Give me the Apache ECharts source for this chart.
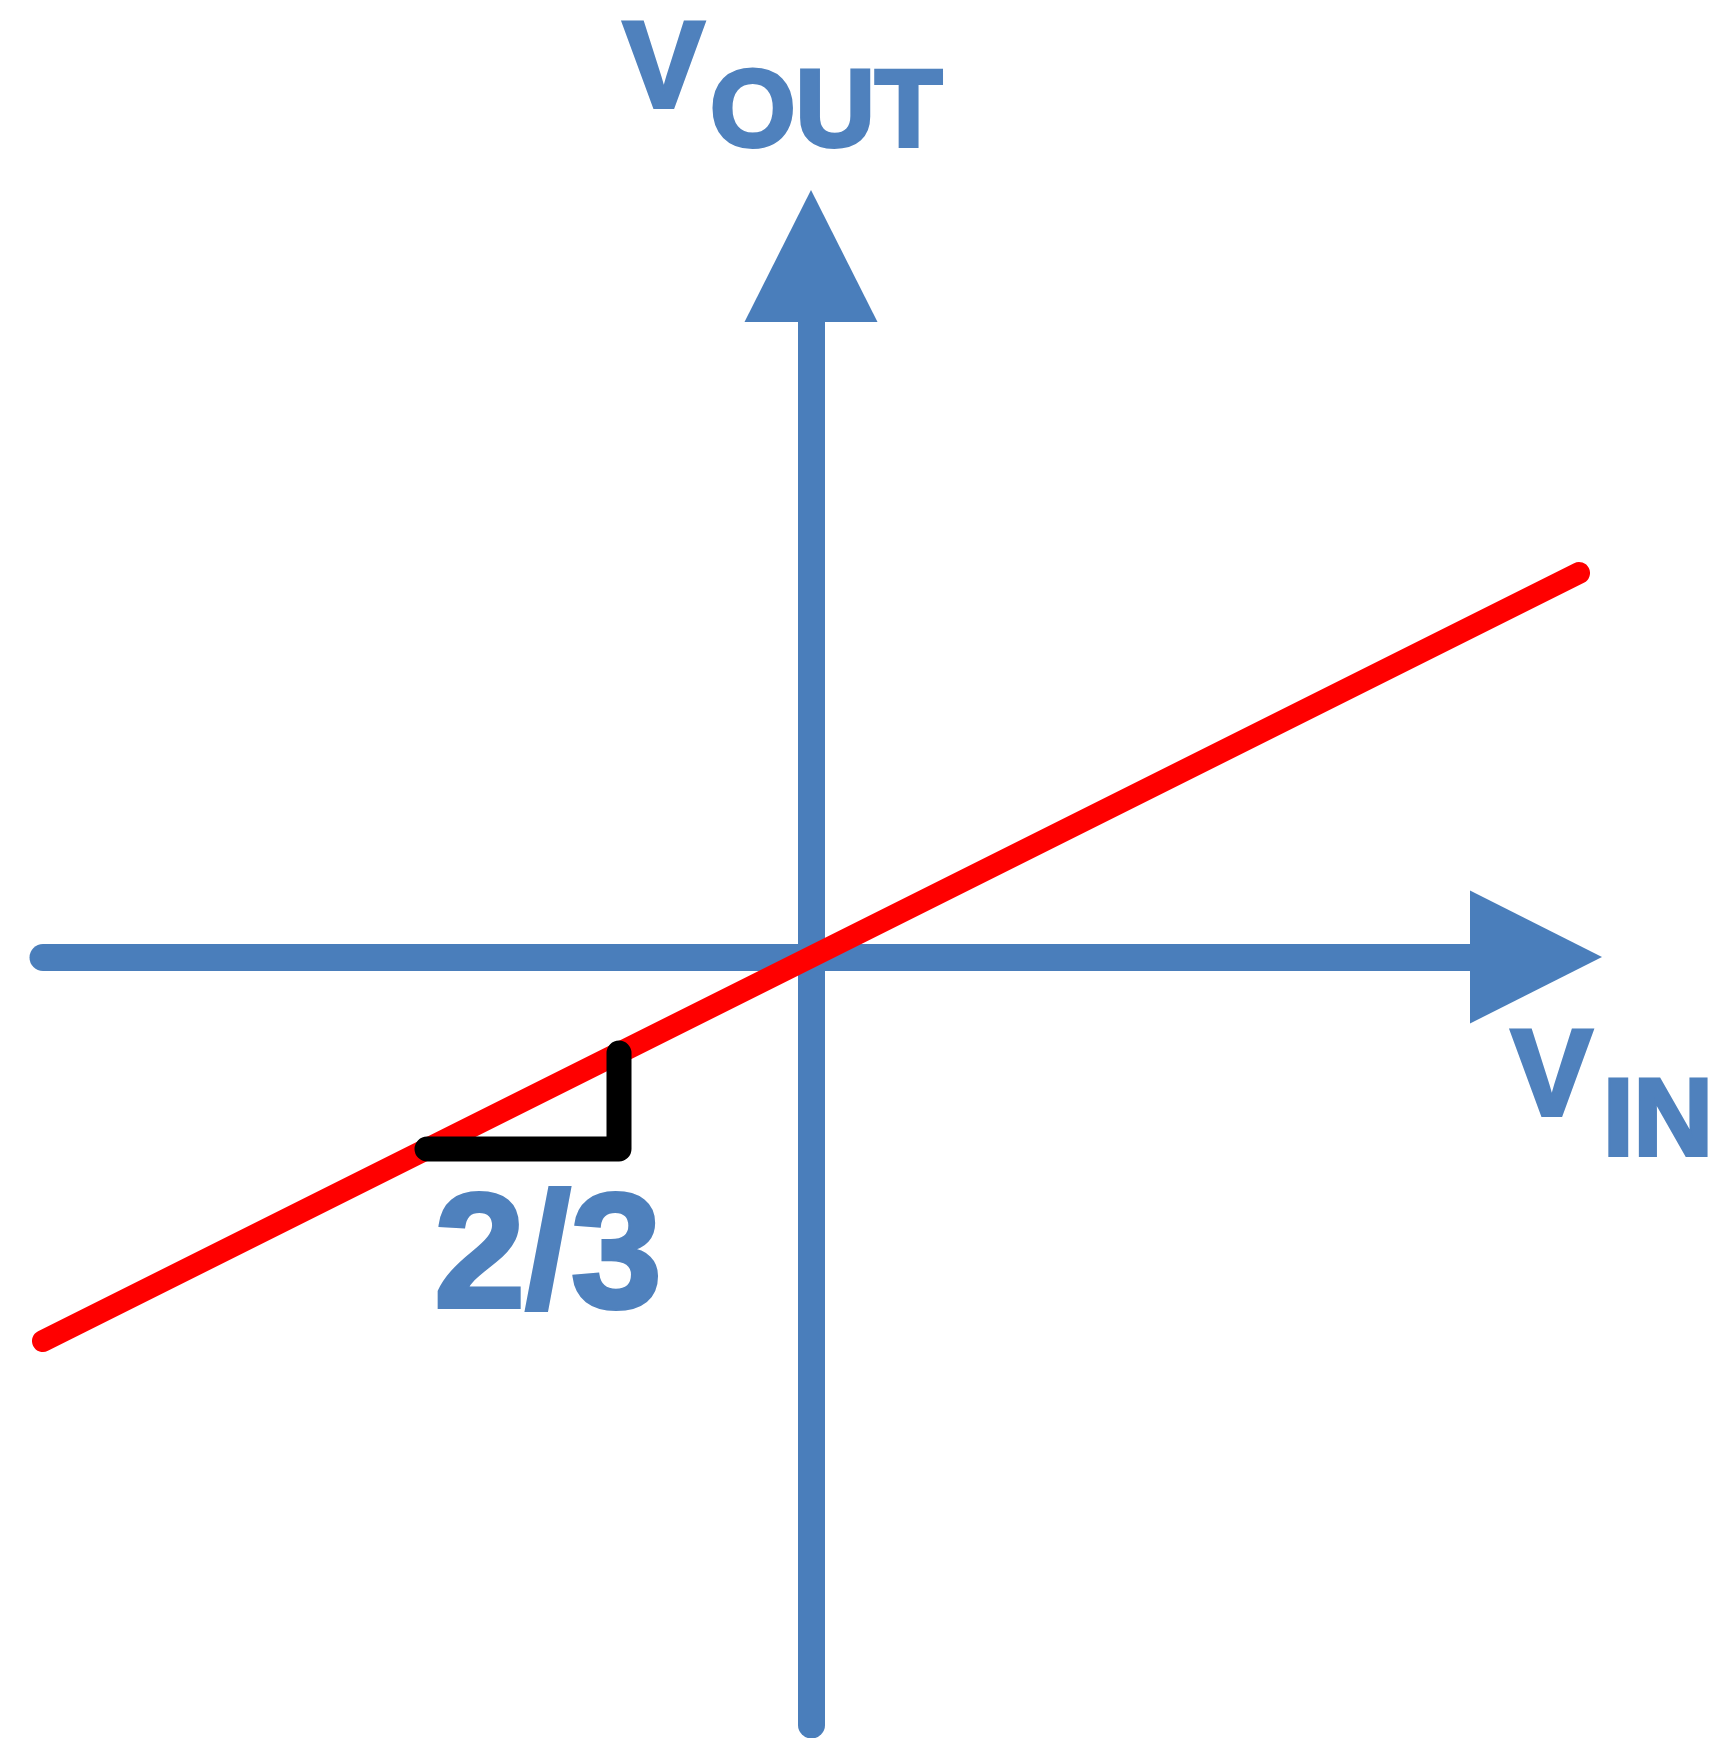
<!DOCTYPE html>
<html>
<head>
<meta charset="utf-8">
<title>Vout vs Vin</title>
<script src="https://cdn.jsdelivr.net/npm/echarts@6/dist/echarts.min.js"></script>
<style>
    html, body { margin: 0; padding: 0; background: #ffffff; }
    #transferChart { width: 1713px; height: 1738px; }
</style>
</head>
<body>
<div id="transferChart"></div>
<script>
    // 坐标轴范围（横轴 Vin，纵轴 Vout）
    var xRange = [-12, 11];
    var yRange = [-16, 14];
    // 画直线用的范围（比坐标轴略宽，避免直线被裁掉）
    var lineRange = [-12, 12];

    // 传输特性直线的两个端点
    var lineX = [-12, 12];
    var lineY = [-8, 8];

    // 斜率三角形（水平 3，竖直 2）
    var slopeX = [-6, -3, -3];
    var slopeY = [-4, -4, -2];

    // 文字
    var slopeLabel = '2/3';
    var xName = ['V', 'IN'];
    var yName = ['V', 'OUT'];

    var axisBlue = '#4A7EBB';
    var textBlue = '#4F81BD';
    var textFont = '"Liberation Sans", Arial, sans-serif';

    function zip(xs, ys) {
        var out = [];
        for (var i = 0; i < xs.length; i++) {
            out.push([xs[i], ys[i]]);
        }
        return out;
    }

    function axisStyle(offset) {
        return {
            show: true,
            onZero: true,
            symbol: ['none', 'triangle'],
            symbolSize: [133, 132],
            symbolOffset: [0, offset],
            lineStyle: { color: axisBlue, width: 27, cap: 'round' }
        };
    }

    // 隐藏的坐标轴，只用来给直线定位
    function hiddenAxis(idx, range) {
        return {
            type: 'value',
            gridIndex: idx,
            min: range[0],
            max: range[1],
            axisLine: { show: false },
            axisTick: { show: false },
            axisLabel: { show: false },
            splitLine: { show: false }
        };
    }

    function label(text, x, y, size) {
        return {
            type: 'text',
            left: x,
            top: y,
            z: 100,
            style: {
                text: text,
                fill: textBlue,
                stroke: textBlue,
                lineWidth: 4,
                lineJoin: 'round',
                font: 'bold ' + size + 'px ' + textFont
            }
        };
    }

    var myChart = echarts.init(document.getElementById('transferChart'));

    var option = {
        backgroundColor: '#ffffff',
        animation: false,
        grid: [
            { left: 43, right: 198, top: 285, bottom: 13, containLabel: false },
            { left: 43, right: 134, top: 285, bottom: 13, containLabel: false }
        ],
        xAxis: [
            {
                type: 'value',
                gridIndex: 0,
                min: xRange[0],
                max: xRange[1],
                axisLine: axisStyle(21),
                axisTick: { show: false },
                axisLabel: { show: false },
                splitLine: { show: false }
            },
            hiddenAxis(1, lineRange)
        ],
        yAxis: [
            {
                type: 'value',
                gridIndex: 0,
                min: yRange[0],
                max: yRange[1],
                axisLine: axisStyle(29),
                axisTick: { show: false },
                axisLabel: { show: false },
                splitLine: { show: false }
            },
            hiddenAxis(1, yRange)
        ],
        series: [
            {
                type: 'line',
                xAxisIndex: 1,
                yAxisIndex: 1,
                data: zip(lineX, lineY),
                symbol: 'none',
                clip: false,
                z: 5,
                lineStyle: { color: '#FF0000', width: 22, cap: 'round' }
            },
            {
                type: 'line',
                xAxisIndex: 1,
                yAxisIndex: 1,
                data: zip(slopeX, slopeY),
                symbol: 'none',
                clip: false,
                z: 6,
                lineStyle: { color: '#000000', width: 25, cap: 'round', join: 'round' }
            }
        ],
        graphic: [
            label(yName[0], 621, 10, 122),
            label(yName[1], 708, 59, 110),
            label(xName[0], 1509, 1018, 122),
            label(xName[1], 1601, 1068, 110),
            label(slopeLabel, 432, 1178, 164)
        ]
    };

    myChart.setOption(option);
</script>
</body>
</html>
